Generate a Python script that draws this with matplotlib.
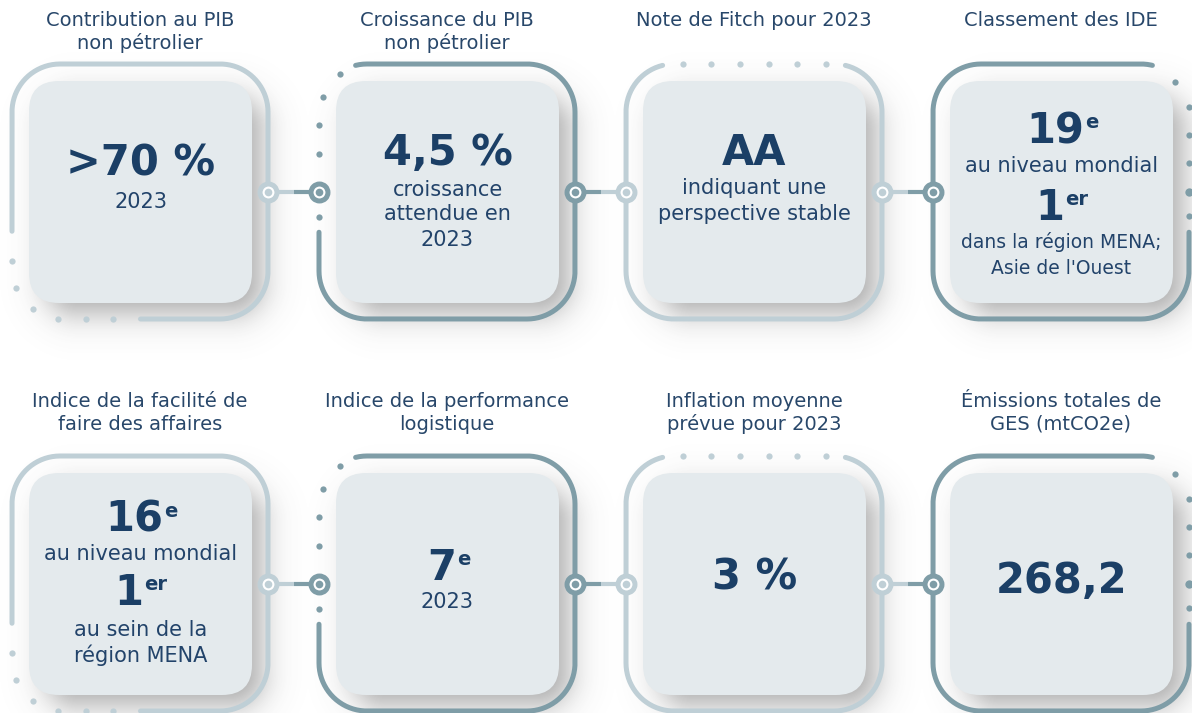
import numpy as np
import matplotlib
matplotlib.use('Agg')
import matplotlib.pyplot as plt
from matplotlib.patches import FancyBboxPatch

W, H = 1192, 713

# --- contenu des cartes ---
titles = [["Contribution au PIB", "non pétrolier"],
          ["Croissance du PIB", "non pétrolier"],
          ["Note de Fitch pour 2023"],
          ["Classement des IDE"],
          ["Indice de la facilité de", "faire des affaires"],
          ["Indice de la performance", "logistique"],
          ["Inflation moyenne", "prévue pour 2023"],
          ["Émissions totales de", "GES (mtCO2e)"]]
values = [">70 %", "4,5 %", "AA", "19", "16", "7", "3 %", "268,2"]
value_sups = ["", "", "", "e", "e", "e", "", ""]
notes = [["2023"], ["croissance", "attendue en", "2023"],
         ["indiquant une", "perspective stable"], ["au niveau mondial"],
         ["au niveau mondial"], ["2023"], [], []]
ranks2 = [None, None, None, "1", "1", None, None, None]
rank2_sups = ["", "", "", "er", "er", "", "", ""]
notes2 = [[], [], [], ["dans la région MENA;", "Asie de l'Ouest"],
          ["au sein de la", "région MENA"], [], [], []]

# --- mise en page ---
line_y = [[79, 120], [69, 107, 132, 157], [69, 106, 131], [47, 83, 124, 159, 185],
          [44, 80, 117, 155, 182], [92, 128], [102], [105]]
title_y = [19, 400]
frame_top = [64, 456]
inner_top = [81, 473]
conn_y = [192, 584]
light = '#bfcfd6'
dark = '#7f9da7'
col_colors = [light, dark, light, dark]
card_fc = '#e4eaed'
c_title = '#28476a'
c_value = '#1b3f66'
c_note = '#22436a'

fig = plt.figure(figsize=(11.92, 7.13), dpi=100)
ax = fig.add_axes([0, 0, 1, 1])


def rr_points(x0, y0, x1, y1, r):
    pts = []
    def edge(a, b):
        n = int(np.hypot(b[0]-a[0], b[1]-a[1])) + 2
        t = np.linspace(0, 1, n)
        return np.c_[a[0] + (b[0]-a[0])*t, a[1] + (b[1]-a[1])*t]
    def arc(cx, cy, a0, a1):
        a = np.radians(np.linspace(a0, a1, 60))
        return np.c_[cx + r*np.cos(a), cy + r*np.sin(a)]
    pts.append(edge((x0+r, y0), (x1-r, y0)))
    pts.append(arc(x1-r, y0+r, -90, 0))
    pts.append(edge((x1, y0+r), (x1, y1-r)))
    pts.append(arc(x1-r, y1-r, 0, 90))
    pts.append(edge((x1-r, y1), (x0+r, y1)))
    pts.append(arc(x0+r, y1-r, 90, 180))
    pts.append(edge((x0, y1-r), (x0, y0+r)))
    pts.append(arc(x0+r, y0+r, 180, 270))
    return np.vstack(pts)


def frame_keep(style, x, y, L, T):
    if style == 0:
        return ~((x < L+128) & (y > T+168))
    if style == 1:
        return ~((x < L+36) & (y < T+168))
    if style == 2:
        return ~((y < T+8) & (x > L+37) & (x < L+219))
    return ~((x > L+220) & (y < T+168))


dot_pos = [[(0, 197), (4, 224), (21, 245), (46, 255), (74, 255), (101, 255)],
           [(21, 10), (4, 33), (0, 61), (0, 90), (0, 153)],
           [(57, 0), (85, 0), (114, 0), (143, 0), (171, 0), (200, 0)],
           [(242, 18), (256, 43), (256, 71), (256, 99), (256, 128), (256, 152)]]

# ombres portées
yy, xx = np.mgrid[0:H, 0:W] + 0.5
alpha = np.zeros((H, W))
for k in range(8):
    row, col = divmod(k, 4)
    L = 12 + 307*col
    cx = L + 17 + 111.5 + 14
    cy = inner_top[row] + 111 + 14
    hw, hh, r = 106, 106, 30
    qx = np.abs(xx-cx) - (hw-r)
    qy = np.abs(yy-cy) - (hh-r)
    d = np.hypot(np.maximum(qx, 0), np.maximum(qy, 0)) + np.minimum(np.maximum(qx, qy), 0) - r
    alpha = np.maximum(alpha, 0.5/(1+np.exp(d/10.0)))
img = np.zeros((H, W, 4))
img[..., :3] = 0.3
img[..., 3] = alpha
ax.imshow(img, extent=(0, W, H, 0), origin='upper', zorder=1, interpolation='bilinear')
ax.set_xlim(0, W)
ax.set_ylim(H, 0)
ax.set_aspect('auto')
ax.axis('off')

for k in range(8):
    row, col = divmod(k, 4)
    L = 12 + 307*col
    T = frame_top[row]
    color = col_colors[col]
    cx = L + 128

    # cadre extérieur ouvert
    pts = rr_points(L, T, L+256, T+255, 48)
    keep = frame_keep(col, pts[:, 0], pts[:, 1], L, T)
    first_gap = np.argmin(keep)
    pts = np.roll(pts, -first_gap, axis=0)
    keep = np.roll(keep, -first_gap)
    idx = np.flatnonzero(keep)
    runs = np.split(idx, np.flatnonzero(np.diff(idx) > 1) + 1)
    for run in runs:
        if len(run) > 1:
            ax.plot(pts[run, 0], pts[run, 1], color=color, lw=3.6,
                    solid_capstyle='round', zorder=2)

    for i, (dx, dy) in enumerate(dot_pos[col]):
        ms = 6 if (col == 3 and i == 4) else 4.5
        ax.plot(L+dx, T+dy, 'o', ms=ms, color=color, mec='none', zorder=3)

    # carte intérieure
    ax.add_patch(FancyBboxPatch((L+17, inner_top[row]), 223, 222,
                                boxstyle="round,pad=0,rounding_size=30",
                                fc=card_fc, ec='none', zorder=4))

    # titres
    for i, line in enumerate(titles[k]):
        ax.text(cx, title_y[row] + 23*i + 7, line, ha='center', va='baseline',
                fontsize=14, color=c_title, zorder=6)

    # contenu
    lines = [(values[k], value_sups[k], 'big', 15)]
    lines += [(n, '', 'small', 15) for n in notes[k]]
    if ranks2[k]:
        lines.append((ranks2[k], rank2_sups[k], 'big', 15))
        fs2 = 13.5 if k == 3 else 15
        lines += [(n, '', 'small', fs2) for n in notes2[k]]
    ccx = L + 17 + 111.5
    for (txt, sup, kind, fs), oy in zip(lines, line_y[k]):
        y = inner_top[row] + oy
        if kind == 'big':
            shift = 6*len(sup)
            t = ax.text(ccx - shift, y + 15, txt, ha='center', va='baseline',
                        fontsize=30, fontweight='bold', color=c_value, zorder=6)
            if sup:
                ax.annotate(sup, xy=(1, 1), xycoords=t, xytext=(0.5, -2),
                            textcoords='offset points', ha='left', va='top',
                            fontsize=14, fontweight='bold', color=c_value, zorder=6)
        else:
            ax.text(ccx, y + 7.5, txt, ha='center', va='baseline',
                    fontsize=fs, color=c_note, zorder=6)

# connecteurs
for row in range(2):
    y = conn_y[row]
    for col in range(3):
        xa = 12 + 307*col + 256
        xb = 12 + 307*(col+1)
        xm = (xa + xb) / 2
        ca, cb = col_colors[col], col_colors[col+1]
        ax.plot([xa, xm], [y, y], color=ca, lw=3, zorder=5, solid_capstyle='butt')
        ax.plot([xm, xb], [y, y], color=cb, lw=3, zorder=5, solid_capstyle='butt')
        for x, c in ((xa, ca), (xb, cb)):
            ax.plot(x, y, 'o', ms=12.2, mfc='white', mec=c, mew=3.6, zorder=7)
            ax.plot(x, y, 'o', ms=5.5, color=c, mec='none', zorder=8)

fig.savefig('out.png', dpi=100)
